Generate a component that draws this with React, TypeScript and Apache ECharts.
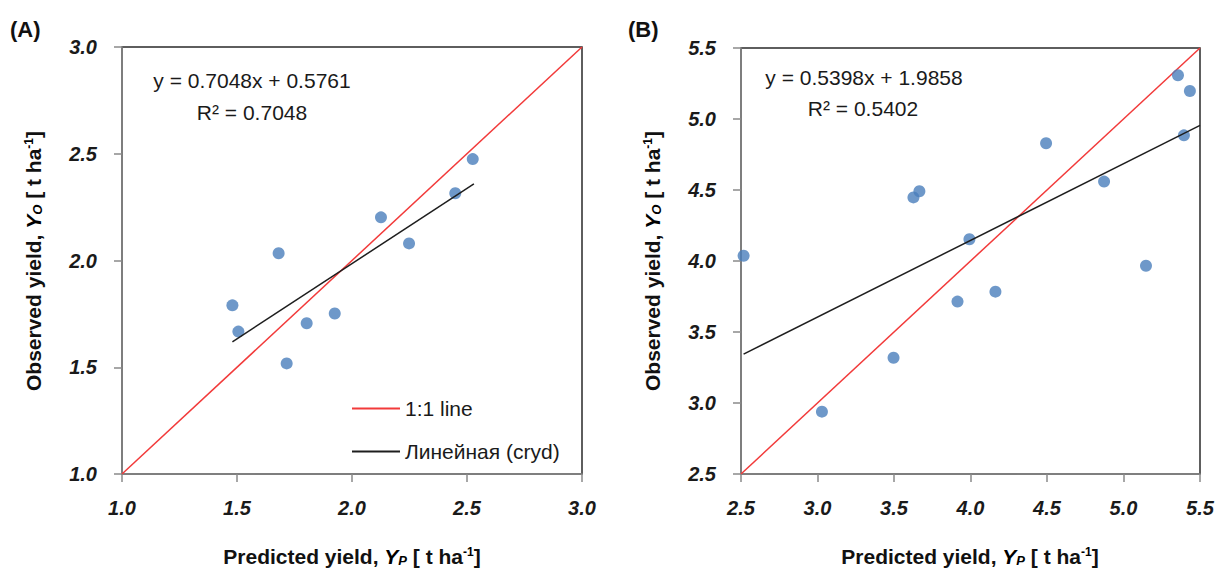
import React, { useEffect, useRef } from 'react';
import * as echarts from 'echarts';

// Panel A data
const predictedA = [1.48, 1.506, 1.681, 1.716, 1.803, 1.925, 2.126, 2.248, 2.449, 2.525];
const observedA = [1.79, 1.667, 2.034, 1.518, 1.706, 1.752, 2.202, 2.08, 2.315, 2.475];
const oneToOneA = [[1, 1], [3, 3]];
const trendA = [[1.48, 1.619], [2.53, 2.359]];
const equationA = ['y = 0.7048x + 0.5761', 'R² = 0.7048'];

// Panel B data
const predictedB = [2.517, 3.029, 3.497, 3.627, 3.666, 3.915, 3.993, 4.163, 4.494, 4.873, 5.147, 5.356, 5.395, 5.434];
const observedB = [4.037, 2.939, 3.319, 4.448, 4.491, 3.714, 4.153, 3.784, 4.829, 4.559, 3.967, 5.308, 4.885, 5.197];
const oneToOneB = [[2.5, 2.5], [5.5, 5.5]];
const trendB = [[2.517, 3.344], [5.5, 4.955]];
const equationB = ['y = 0.5398x + 1.9858', 'R² = 0.5402'];

// Axis ranges
const rangeA = { min: 1, max: 3, interval: 0.5 };
const rangeB = { min: 2.5, max: 5.5, interval: 0.5 };

const legendNames = ['1:1 line', 'Линейная (cryd)'];
const panelLabels = ['(A)', '(B)'];

const FONT = '"Liberation Sans", Arial, sans-serif';
const DOT = '#4a7ebb';
const RED = '#f23a3a';
const BLACK = '#1e1e1e';
const AXIS_GRAY = '#8a8a8a';

const titleRich = {
  b: { fontFamily: FONT, fontWeight: 'bold', fontSize: 21, fill: '#111', color: '#111' },
  i: { fontFamily: FONT, fontWeight: 'bold', fontStyle: 'italic', fontSize: 21, color: '#111' },
  sub: { fontFamily: FONT, fontWeight: 'bold', fontStyle: 'italic', fontSize: 13, color: '#111', padding: [9, 0, 0, 0] },
  sup: { fontFamily: FONT, fontWeight: 'bold', fontSize: 12, color: '#111', padding: [0, 0, 9, 0] },
};

function xTitle(sub: string) {
  return `{b|Predicted yield, }{i|Y}{sub|${sub}}{b| [ t ha}{sup|-1}{b|]}`;
}
function yTitle(sub: string) {
  return `{b|Observed yield, }{i|Y}{sub|${sub}}{b| [ t ha}{sup|-1}{b|]}`;
}

function makeX(gridIndex: number, r: { min: number; max: number; interval: number }) {
  return {
    type: 'value',
    gridIndex,
    min: r.min,
    max: r.max,
    interval: r.interval,
    axisLine: { show: true, lineStyle: { color: AXIS_GRAY, width: 1.5 } },
    axisTick: { show: true, inside: false, length: 8, lineStyle: { color: AXIS_GRAY, width: 1.5 } },
    splitLine: { show: false },
    axisLabel: {
      margin: 24,
      fontFamily: FONT,
      fontSize: 20,
      fontWeight: 'bold',
      fontStyle: 'italic',
      color: '#1a1a1a',
      formatter: (v: number) => v.toFixed(1),
    },
  };
}
function makeY(gridIndex: number, r: { min: number; max: number; interval: number }) {
  return {
    type: 'value',
    gridIndex,
    min: r.min,
    max: r.max,
    interval: r.interval,
    axisLine: { show: true, lineStyle: { color: AXIS_GRAY, width: 1.5 } },
    axisTick: { show: true, inside: false, length: 8, lineStyle: { color: AXIS_GRAY, width: 1.5 } },
    splitLine: { show: false },
    axisLabel: {
      margin: 25,
      fontFamily: FONT,
      fontSize: 20,
      fontWeight: 'bold',
      fontStyle: 'italic',
      color: '#1a1a1a',
      formatter: (v: number) => v.toFixed(1),
    },
  };
}

export default function App() {
  const ref = useRef<HTMLDivElement>(null);
  useEffect(() => {
    if (!ref.current) return;
    const chart = echarts.init(ref.current, undefined, { renderer: 'svg' });
    const ptsA = predictedA.map((x, i) => [x, observedA[i]]);
    const ptsB = predictedB.map((x, i) => [x, observedB[i]]);
    const eqText = (t: string, x: number, y: number) => ({
      type: 'text',
      x,
      y,
      silent: true,
      style: { text: t, font: `21px ${FONT}`, fill: '#1a1a1a', align: 'center', verticalAlign: 'middle' },
    });
    const option: any = {
      animation: false,
      backgroundColor: '#ffffff',
      grid: [
        { left: 122, top: 47, width: 460, height: 427, show: true, borderColor: '#2a2a2a', borderWidth: 1.5, backgroundColor: 'transparent' },
        { left: 741, top: 48, width: 459, height: 426, show: true, borderColor: '#2a2a2a', borderWidth: 1.5, backgroundColor: 'transparent' },
      ],
      xAxis: [makeX(0, rangeA), makeX(1, rangeB)],
      yAxis: [makeY(0, rangeA), makeY(1, rangeB)],
      legend: {
        data: legendNames,
        orient: 'vertical',
        left: 347,
        top: 393,
        icon: 'rect',
        itemWidth: 48,
        itemHeight: 2,
        itemGap: 22,
        itemTextGap: 10,
        selectedMode: false,
        textStyle: { fontFamily: FONT, fontSize: 21, color: '#1a1a1a' },
      },
      series: [
        { name: legendNames[0], type: 'line', xAxisIndex: 0, yAxisIndex: 0, data: oneToOneA, symbol: 'none', lineStyle: { color: RED, width: 1.5 }, itemStyle: { color: RED }, silent: true, z: 2 },
        { name: legendNames[1], type: 'line', xAxisIndex: 0, yAxisIndex: 0, data: trendA, symbol: 'none', lineStyle: { color: BLACK, width: 1.5 }, itemStyle: { color: BLACK }, silent: true, z: 4 },
        { name: 'A', type: 'scatter', xAxisIndex: 0, yAxisIndex: 0, data: ptsA, symbol: 'circle', symbolSize: 12, itemStyle: { color: DOT }, z: 3 },
        { name: '1:1 B', type: 'line', xAxisIndex: 1, yAxisIndex: 1, data: oneToOneB, symbol: 'none', lineStyle: { color: RED, width: 1.5 }, itemStyle: { color: RED }, silent: true, z: 2 },
        { name: 'trend B', type: 'line', xAxisIndex: 1, yAxisIndex: 1, data: trendB, symbol: 'none', lineStyle: { color: BLACK, width: 1.5 }, itemStyle: { color: BLACK }, silent: true, z: 4 },
        { name: 'B', type: 'scatter', xAxisIndex: 1, yAxisIndex: 1, data: ptsB, symbol: 'circle', symbolSize: 12, itemStyle: { color: DOT }, z: 3 },
      ],
      graphic: [
        { type: 'text', left: 10, top: 18, silent: true, style: { text: panelLabels[0], font: `bold 22px ${FONT}`, fill: '#111' } },
        { type: 'text', left: 628, top: 18, silent: true, style: { text: panelLabels[1], font: `bold 22px ${FONT}`, fill: '#111' } },
        eqText(equationA[0], 252, 80),
        eqText(equationA[1], 252, 112),
        eqText(equationB[0], 864, 77),
        eqText(equationB[1], 863, 108),
        { type: 'text', x: 352, y: 556, silent: true, style: { text: xTitle('P'), rich: titleRich, align: 'center', verticalAlign: 'middle' } },
        { type: 'text', x: 970, y: 556, silent: true, style: { text: xTitle('P'), rich: titleRich, align: 'center', verticalAlign: 'middle' } },
        { type: 'text', x: 33, y: 261, rotation: Math.PI / 2, silent: true, style: { text: yTitle('O'), rich: titleRich, align: 'center', verticalAlign: 'middle' } },
        { type: 'text', x: 652, y: 261, rotation: Math.PI / 2, silent: true, style: { text: yTitle('O'), rich: titleRich, align: 'center', verticalAlign: 'middle' } },
      ],
    };
    chart.setOption(option);
    return () => chart.dispose();
  }, []);
  return <div ref={ref} style={{ position: 'fixed', left: 0, top: 0, width: 1219, height: 569, background: '#fff' }} />;
}
